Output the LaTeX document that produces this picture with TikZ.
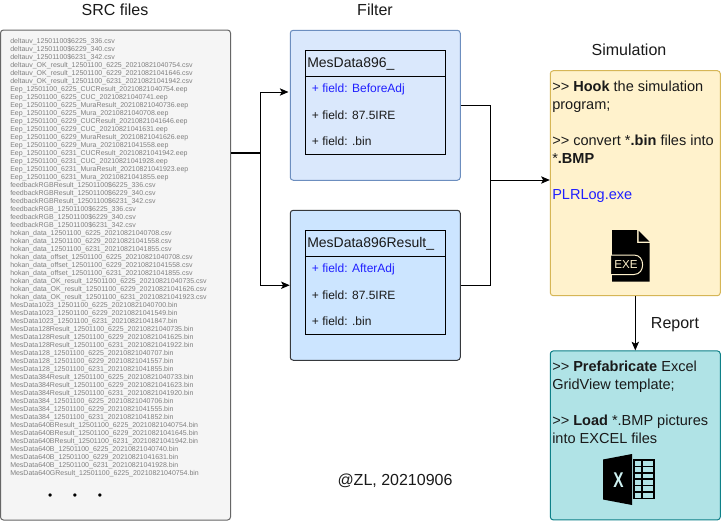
\documentclass[tikz,border=0pt]{standalone}
\usepackage{fontspec}
\setmainfont{Liberation Sans}
\usetikzlibrary{arrows.meta}
\definecolor{srcfill}{HTML}{F5F5F5}\definecolor{srcline}{HTML}{666666}
\definecolor{fa}{HTML}{DAE8FC}\definecolor{la}{HTML}{6C8EBF}
\definecolor{fb}{HTML}{CCE5FF}\definecolor{lb}{HTML}{36393D}
\definecolor{fs}{HTML}{FFF2CC}\definecolor{ls}{HTML}{D6B656}
\definecolor{fr}{HTML}{B0E3E6}\definecolor{lr}{HTML}{0E8088}
\definecolor{ink}{HTML}{1A1A1A}\definecolor{lnk}{HTML}{2020FF}
\definecolor{listgray}{HTML}{808080}
\definecolor{xpale}{HTML}{CDF0F0}
\newcommand{\us}{\_}
\tikzset{
 card/.style={draw,rounded corners=2.25pt,line width=0.75pt,inner sep=0pt},
 umlbox/.style={draw=black,line width=0.75pt,inner sep=0pt,minimum width=105pt},
 caption/.style={inner sep=0pt,text=ink,font=\fontsize{12pt}{14pt}\selectfont},
 umlhead/.style={inner sep=0pt,anchor=west,text=ink,font=\fontsize{10.5pt}{13.5pt}\selectfont},
 field/.style={inner sep=0pt,anchor=west,text=ink,font=\fontsize{9pt}{11pt}\selectfont},
 para/.style={inner sep=0pt,anchor=north west,align=left,text=ink,font=\fontsize{10.9pt}{13.5pt}\selectfont},
 conn/.style={draw=black,line width=0.75pt},
 arr/.style={conn,-{Stealth[length=6.5pt,width=5.5pt,inset=1.5pt]}},
}
\begin{document}
\begin{tikzpicture}[x=0.75pt,y=-0.75pt]
\useasboundingbox (0,0) rectangle (722,522);
\fill[white] (0,0) rectangle (722,522);
% captions
\node[caption] (capsrc) at (115,10) {SRC files};
\node[caption] (capfilter) at (375,10) {Filter};
\node[caption] (capsim) at (629,50) {Simulation};
\node[caption] (capreport) at (675,325) {Report};
\node[caption] (capzl) at (395,481) {@ZL, 20210906};
% SRC
\node[card,draw=srcline,fill=srcfill,minimum width=172.5pt,minimum height=367.5pt] (src) at (115.5,275) {};
\node[inner sep=0pt,anchor=north west,align=left,text=listgray,font=\fontsize{5.25pt}{6pt}\selectfont] (list) at (10,37.7) {%
deltauv\us12501100\$6225\us336.csv\\
deltauv\us12501100\$6229\us340.csv\\
deltauv\us12501100\$6231\us342.csv\\
deltauv\us OK\us result\us12501100\us6225\us20210821040754.csv\\
deltauv\us OK\us result\us12501100\us6229\us20210821041646.csv\\
deltauv\us OK\us result\us12501100\us6231\us20210821041942.csv\\
Eep\us12501100\us6225\us CUCResult\us20210821040754.eep\\
Eep\us12501100\us6225\us CUC\us20210821040741.eep\\
Eep\us12501100\us6225\us MuraResult\us20210821040736.eep\\
Eep\us12501100\us6225\us Mura\us20210821040708.eep\\
Eep\us12501100\us6229\us CUCResult\us20210821041646.eep\\
Eep\us12501100\us6229\us CUC\us20210821041631.eep\\
Eep\us12501100\us6229\us MuraResult\us20210821041626.eep\\
Eep\us12501100\us6229\us Mura\us20210821041558.eep\\
Eep\us12501100\us6231\us CUCResult\us20210821041942.eep\\
Eep\us12501100\us6231\us CUC\us20210821041928.eep\\
Eep\us12501100\us6231\us MuraResult\us20210821041923.eep\\
Eep\us12501100\us6231\us Mura\us20210821041855.eep\\
feedbackRGBResult\us12501100\$6225\us336.csv\\
feedbackRGBResult\us12501100\$6229\us340.csv\\
feedbackRGBResult\us12501100\$6231\us342.csv\\
feedbackRGB\us12501100\$6225\us336.csv\\
feedbackRGB\us12501100\$6229\us340.csv\\
feedbackRGB\us12501100\$6231\us342.csv\\
hokan\us data\us12501100\us6225\us20210821040708.csv\\
hokan\us data\us12501100\us6229\us20210821041558.csv\\
hokan\us data\us12501100\us6231\us20210821041855.csv\\
hokan\us data\us offset\us12501100\us6225\us20210821040708.csv\\
hokan\us data\us offset\us12501100\us6229\us20210821041558.csv\\
hokan\us data\us offset\us12501100\us6231\us20210821041855.csv\\
hokan\us data\us OK\us result\us12501100\us6225\us20210821040735.csv\\
hokan\us data\us OK\us result\us12501100\us6229\us20210821041626.csv\\
hokan\us data\us OK\us result\us12501100\us6231\us20210821041923.csv\\
MesData1023\us12501100\us6225\us20210821040700.bin\\
MesData1023\us12501100\us6229\us20210821041549.bin\\
MesData1023\us12501100\us6231\us20210821041847.bin\\
MesData128Result\us12501100\us6225\us20210821040735.bin\\
MesData128Result\us12501100\us6229\us20210821041625.bin\\
MesData128Result\us12501100\us6231\us20210821041922.bin\\
MesData128\us12501100\us6225\us20210821040707.bin\\
MesData128\us12501100\us6229\us20210821041557.bin\\
MesData128\us12501100\us6231\us20210821041855.bin\\
MesData384Result\us12501100\us6225\us20210821040733.bin\\
MesData384Result\us12501100\us6229\us20210821041623.bin\\
MesData384Result\us12501100\us6231\us20210821041920.bin\\
MesData384\us12501100\us6225\us20210821040706.bin\\
MesData384\us12501100\us6229\us20210821041555.bin\\
MesData384\us12501100\us6231\us20210821041852.bin\\
MesData640BResult\us12501100\us6225\us20210821040754.bin\\
MesData640BResult\us12501100\us6229\us20210821041645.bin\\
MesData640BResult\us12501100\us6231\us20210821041942.bin\\
MesData640B\us12501100\us6225\us20210821040740.bin\\
MesData640B\us12501100\us6229\us20210821041631.bin\\
MesData640B\us12501100\us6231\us20210821041928.bin\\
MesData640GResult\us12501100\us6225\us20210821040754.bin};
\node[inner sep=0pt,font=\fontsize{9pt}{11pt}\selectfont] (dots) at (75,497) {•\hspace{15.5pt}•\hspace{15.5pt}•};
% filter cards
\node[card,draw=la,fill=fa,minimum width=127.5pt,minimum height=112.5pt] (boxa) at (375.25,105.25) {};
\node[card,draw=lb,fill=fb,minimum width=127.5pt,minimum height=112.5pt] (boxb) at (375.25,285.25) {};
% uml A
\node[umlbox,minimum height=19.5pt] (heada) at (375.5,63.25) {};
\node[umlbox,minimum height=58.5pt] (bodya) at (375.5,115.5) {};
\node[umlhead] (headatext) at (307,64) {MesData896\_};
\node[field,text=lnk] (a1) at (311.7,89.7) {+ field: BeforeAdj};
\node[field] (a2) at (311.7,115.7) {+ field: 87.5IRE};
\node[field] (a3) at (311.7,141.7) {+ field: .bin};
% uml B
\node[umlbox,minimum height=19.5pt] (headb) at (375.5,243.25) {};
\node[umlbox,minimum height=58.5pt] (bodyb) at (375.5,295.5) {};
\node[umlhead] (headbtext) at (307,244) {MesData896Result\_};
\node[field,text=lnk] (b1) at (311.7,269.7) {+ field: AfterAdj};
\node[field] (b2) at (311.7,295.7) {+ field: 87.5IRE};
\node[field] (b3) at (311.7,321.7) {+ field: .bin};
% simulation
\node[card,draw=ls,fill=fs,minimum width=127.5pt,minimum height=168.75pt] (sim) at (635.3,183.2) {};
\node[para] (simtext) at (552,81) {>{}> \textbf{Hook} the simulation\\program;\\[13.5pt]>{}> convert *\textbf{.bin} files into\\*\textbf{.BMP}\\[13.5pt]\textcolor{lnk}{PLRLog.exe}};
% report
\node[card,draw=lr,fill=fr,minimum width=127.5pt,minimum height=126.75pt] (rep) at (635.3,435.4) {};
\node[para] (reptext) at (552,361) {>{}> \textbf{Prefabricate} Excel\\GridView template;\\[13.5pt]>{}> \textbf{Load} *.BMP pictures\\into EXCEL files};
% exe icon
\fill[black] (612,230) -- (637,230) -- (637,243) -- (649.5,243) -- (649.5,281.5) -- (612,281.5) -- cycle;
\fill[black] (638.5,230.5) -- (649.5,241.5) -- (638.5,241.5) -- cycle;
\fill[black,draw=fs,line width=0.75pt] (610.5,255) -- (634,255) .. controls (645.5,255) and (645.5,274.5) .. (634,274.5) -- (610.5,274.5) -- cycle;
\node[inner sep=0pt,text=fs,font=\fontsize{8.7pt}{9pt}\selectfont] (exelabel) at (626,265) {EXE};
% excel icon
\draw[black,line width=1.2pt,fill=fr] (634,460) rectangle (654,498.5);
\draw[black,line width=1.1pt] (642,460) -- (642,498.5)
  (634,466.4) -- (654,466.4) (634,472.8) -- (654,472.8) (634,479.2) -- (654,479.2) (634,485.6) -- (654,485.6) (634,492) -- (654,492);
\fill[black] (603,459.5) -- (632,454) -- (632,505) -- (603,499.5) -- cycle;
\node[inner sep=0pt,text=xpale,xscale=0.72,font=\fontsize{16pt}{18pt}\selectfont\bfseries] (xlabel) at (618.5,480) {X};
% connectors
\coordinate (srcout) at (src.east |- 0,153);
\coordinate (jn) at (260,153);
\coordinate (ina) at (288.5,92);
\coordinate (merge) at (490,180);
\draw[conn,line width=1.1pt] (srcout) -- (jn);
\draw[arr] (jn) -- (jn |- ina) -- (ina);
\draw[arr] (jn) -- (jn |- boxb.west) -- (boxb.west);
\draw[conn] (boxa.east) -- (merge |- boxa.east) -- (merge);
\draw[conn] (boxb.east) -- (merge |- boxb.east) -- (merge);
\draw[arr] (merge) -- (sim.west |- merge);
\draw[arr] (sim.south) -- (rep.north);
\end{tikzpicture}
\end{document}
